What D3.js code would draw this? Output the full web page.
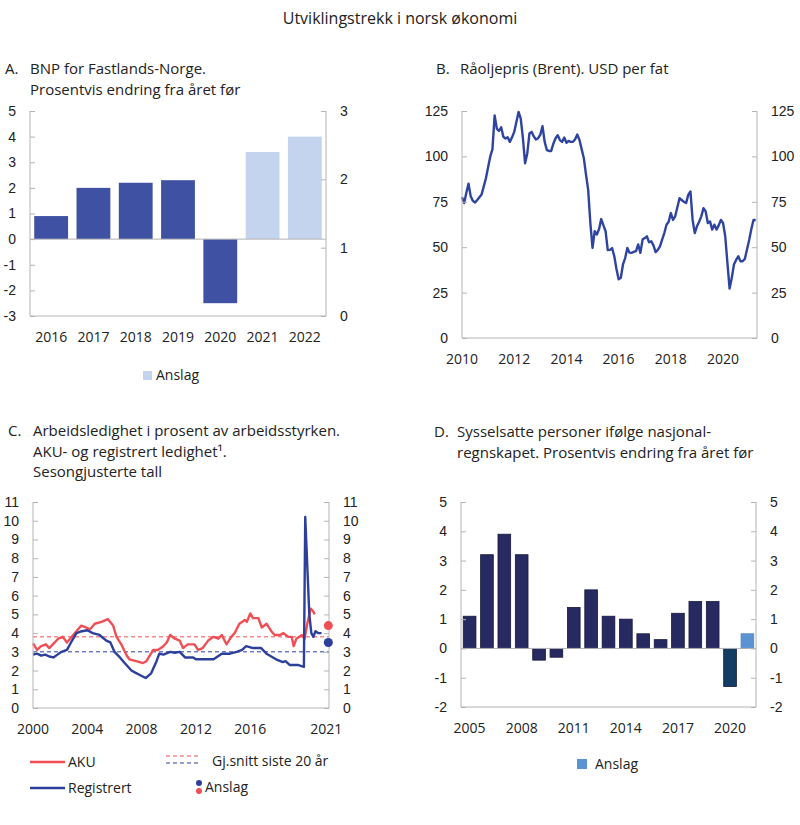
<!DOCTYPE html>
<html>
<head>
<meta charset="utf-8">
<script src="https://cdn.jsdelivr.net/npm/d3@7"></script>
<style>
  body { margin: 0; background: #fff; }
  svg { font-family: "Open Sans", sans-serif; }
  .axis text { font-size: 14px; fill: #222; }
  .axis path, .axis line { stroke: #b4b4b4; }
</style>
</head>
<body>
<svg id="chart" width="800" height="825"></svg>
<script>
// A: BNP Fastlands-Norge
const bnpYears = ["2016", "2017", "2018", "2019", "2020", "2021", "2022"];
const bnpValues = [0.9, 2.0, 2.2, 2.3, -2.5, 3.4, 4.0];
const bnpForecast = [false, false, false, false, false, true, true];

// B: Brent, monthly from Jan 2010
const brentStart = 2010;
const brentValues = [
  77.6, 74.3, 80, 85, 78, 75.5, 74.6, 76, 77.5, 79, 83.5, 88,
  94, 100, 104, 122.6, 115.3, 114, 116, 110.8, 109.9, 110.5, 108, 110.5,
  113.5, 119, 124.5, 120.8, 110, 96.2, 101.6, 112.6, 113.5, 111, 109.3, 110,
  112, 116.6, 108, 103.5, 103, 103, 107, 110, 111.7, 109, 108, 110.4,
  107.5, 108.5, 108, 108, 109.5, 112, 109, 104, 99, 90, 81.6, 63.3,
  49.6, 58.8, 57, 60, 65.5, 62, 58.8, 48.4, 48.5, 49.5, 45, 38,
  32.3, 33.2, 40.5, 44, 49.6, 47, 46.9, 47.5, 47.8, 51.5, 46.9, 54.2,
  55, 56, 52.7, 53.3, 51, 47.3, 48.5, 50.5, 54.2, 57.8, 62.4, 64,
  68.8, 65, 67, 72, 77, 76, 75, 74.3, 78.8, 80.7, 65, 57.8,
  61.5, 64, 67, 71.5, 69.7, 63.3, 64.2, 59.7, 62.4, 59.7, 62, 65,
  63.3, 56, 41.4, 27.2, 33, 40.5, 43, 45, 42.3, 42.3, 43.5, 48.7,
  54, 60, 65, 65
];
const brentTicks = [2010, 2012, 2014, 2016, 2018, 2020];

// C: Arbeidsledighet
const akuSeries = [
  [2000.0,3.45],[2000.3,3.1],[2000.6,3.3],[2000.95,3.4],[2001.2,3.2],[2001.6,3.5],[2001.85,3.7],
  [2002.2,3.8],[2002.5,3.5],[2002.85,3.8],[2003.2,4.1],[2003.55,4.4],[2003.9,4.3],[2004.2,4.2],
  [2004.55,4.5],[2005.05,4.6],[2005.5,4.75],[2005.9,4.4],[2006.15,3.8],[2006.5,3.4],[2006.9,2.8],
  [2007.1,2.6],[2007.6,2.5],[2008.1,2.4],[2008.35,2.5],[2008.6,2.8],[2008.85,3.1],[2009.2,3.1],
  [2009.6,3.3],[2009.85,3.5],[2010.1,3.9],[2010.45,3.7],[2010.8,3.6],[2011.05,3.2],[2011.4,3.4],
  [2011.9,3.4],[2012.15,3.1],[2012.5,3.2],[2012.9,3.6],[2013.3,3.8],[2013.65,3.7],[2013.9,3.9],
  [2014.25,3.4],[2014.6,3.8],[2014.85,4.0],[2015.2,4.5],[2015.6,4.7],[2015.75,4.6],[2016.0,5.05],
  [2016.2,4.8],[2016.6,4.8],[2016.85,4.3],[2017.2,4.5],[2017.55,4.1],[2017.8,3.9],[2018.2,3.9],
  [2018.45,4.0],[2018.8,3.8],[2019.05,3.8],[2019.2,3.3],[2019.4,3.7],[2019.8,3.9],[2020.0,3.7],
  [2020.2,4.5],[2020.45,5.3],[2020.6,5.2],[2020.75,5.0]
];
const regSeries = [
  [2000.0,2.85],[2000.3,2.9],[2000.6,2.8],[2000.9,2.85],[2001.2,2.75],[2001.5,2.7],[2001.8,2.85],
  [2002.1,3.0],[2002.5,3.1],[2002.8,3.5],[2003.2,4.0],[2003.6,4.1],[2004.0,4.15],[2004.4,4.0],
  [2004.9,3.9],[2005.4,3.6],[2005.7,3.5],[2006.0,3.0],[2006.4,2.7],[2006.75,2.4],[2007.25,2.0],
  [2007.5,1.9],[2007.9,1.75],[2008.3,1.6],[2008.7,1.85],[2009.1,2.5],[2009.3,2.9],[2009.6,2.85],
  [2010.1,3.0],[2010.45,2.95],[2010.8,3.0],[2011.2,2.7],[2011.8,2.7],[2012.0,2.6],[2012.6,2.6],
  [2013.3,2.6],[2013.9,2.9],[2014.5,2.9],[2015.0,3.0],[2015.4,3.1],[2015.7,3.3],[2016.2,3.2],
  [2016.8,3.2],[2017.2,2.9],[2017.9,2.6],[2018.4,2.45],[2018.6,2.5],[2018.9,2.3],[2019.5,2.3],
  [2019.95,2.2],[2020.05,10.2],[2020.35,5.0],[2020.5,4.0],[2020.65,3.8],[2020.8,4.1],[2021.0,4.0],
  [2021.25,4.0]
];
const akuAverage = 3.8;
const regAverage = 3.0;
const akuForecast = [2021.75, 4.4];
const regForecast = [2021.75, 3.5];
const ledighetTicks = [2000, 2004, 2008, 2012, 2016];

// D: Sysselsatte
const sysYears = ["2005","2006","2007","2008","2009","2010","2011","2012","2013",
  "2014","2015","2016","2017","2018","2019","2020","2021"];
const sysValues = [1.1, 3.2, 3.9, 3.2, -0.4, -0.3, 1.4, 2.0, 1.1, 1.0, 0.5, 0.3, 1.2, 1.6, 1.6, -1.3, 0.5];
const sysTicks = ["2005", "2008", "2011", "2014", "2017", "2020"];

const svg = d3.select("#chart");
const gray = "#b4b4b4";
const red = "#ef4f55";
const blue = "#2c3f9c";
const fmt = d => String(d);

svg.append("text").attr("x", 400).attr("y", 24).attr("text-anchor", "middle")
  .attr("font-size", 16).attr("fill", "#222").text("Utviklingstrekk i norsk økonomi");

function title(letter, lx, tx, y0, lines) {
  svg.append("text").attr("x", lx).attr("y", y0).attr("font-size", 15).attr("fill", "#222").text(letter);
  lines.forEach((l, i) => {
    svg.append("text").attr("x", tx).attr("y", y0 + i * 20.5).attr("font-size", 15)
      .attr("fill", "#222").text(l);
  });
}

function yAxes(g, yL, yR, w, ticksL, ticksR) {
  g.append("g").attr("class", "axis")
    .call(d3.axisLeft(yL).tickValues(ticksL).tickFormat(fmt).tickSize(-5).tickSizeOuter(0).tickPadding(14))
    .call(a => a.select(".domain").remove());
  g.append("g").attr("class", "axis").attr("transform", `translate(${w},0)`)
    .call(d3.axisRight(yR).tickValues(ticksR).tickFormat(fmt).tickSize(-5).tickSizeOuter(0).tickPadding(14))
    .call(a => a.select(".domain").remove());
  const [y0, y1] = yL.range();
  g.append("line").attr("x1", 0).attr("x2", 0).attr("y1", y0).attr("y2", y1).attr("stroke", gray);
  g.append("line").attr("x1", w).attr("x2", w).attr("y1", y0).attr("y2", y1).attr("stroke", gray);
  g.append("line").attr("x1", 0).attr("x2", w).attr("y1", y0).attr("y2", y0).attr("stroke", gray);
}

function xLabels(g, xs, y) {
  g.selectAll(null).data(xs).enter().append("text")
    .attr("x", d => d.x).attr("y", y).attr("text-anchor", "middle")
    .attr("font-size", 14).attr("fill", "#222").text(d => d.label);
}

// ---- Panel A
{
  const w = 296, h = 205;
  const g = svg.append("g").attr("transform", "translate(30,111)");
  const x = d3.scaleBand().domain(bnpYears).range([0, w]).paddingInner(0.2).paddingOuter(0.1);
  const y = d3.scaleLinear().domain([-3, 5]).range([h, 0]);
  const yR = d3.scaleLinear().domain([0, 3]).range([h, 0]);
  g.selectAll("rect").data(bnpValues).enter().append("rect")
    .attr("x", (d, i) => x(bnpYears[i]))
    .attr("width", x.bandwidth())
    .attr("y", d => y(Math.max(0, d)))
    .attr("height", d => Math.abs(y(d) - y(0)))
    .attr("fill", (d, i) => bnpForecast[i] ? "#c5d4ee" : "#3f51a3");
  g.append("line").attr("x1", 0).attr("x2", w).attr("y1", y(0)).attr("y2", y(0)).attr("stroke", gray);
  yAxes(g, y, yR, w, d3.range(-3, 6), d3.range(0, 4));
  xLabels(g, bnpYears.map(d => ({ x: x(d) + x.bandwidth() / 2, label: d })), h + 26);
  svg.append("rect").attr("x", 143).attr("y", 371).attr("width", 9).attr("height", 9).attr("fill", "#c5d4ee");
  svg.append("text").attr("x", 156).attr("y", 380).attr("font-size", 14).attr("fill", "#222").text("Anslag");
}
title("A.", 5, 30, 74, ["BNP for Fastlands-Norge.", "Prosentvis endring fra året før"]);

// ---- Panel B
{
  const w = 295, h = 227;
  const g = svg.append("g").attr("transform", "translate(462,111)");
  const x = d3.scaleLinear().domain([2010, 2021.3]).range([0, w]);
  const y = d3.scaleLinear().domain([0, 125]).range([h, 0]);
  const data = brentValues.map((v, i) => [brentStart + i / 12, v]);
  g.append("path").datum(data).attr("fill", "none").attr("stroke", "#2e44a0")
    .attr("stroke-width", 2.4).attr("stroke-linejoin", "round")
    .attr("d", d3.line().x(d => x(d[0])).y(d => y(d[1])));
  yAxes(g, y, y, w, d3.range(0, 126, 25), d3.range(0, 126, 25));
  xLabels(g, brentTicks.map(d => ({ x: x(d), label: d })), h + 26);
}
title("B.", 436, 460, 74, ["Råoljepris (Brent). USD per fat"]);

// ---- Panel C
{
  const w = 296, h = 206;
  const g = svg.append("g").attr("transform", "translate(33,502)");
  const x = d3.scaleLinear().domain([2000, 2021.8]).range([0, w]);
  const y = d3.scaleLinear().domain([0, 11]).range([h, 0]);
  const line = d3.line().x(d => x(d[0])).y(d => y(d[1]));
  g.append("line").attr("x1", 0).attr("x2", w).attr("y1", y(akuAverage)).attr("y2", y(akuAverage))
    .attr("stroke", red).attr("stroke-width", 1).attr("stroke-dasharray", "4,3");
  g.append("line").attr("x1", 0).attr("x2", w).attr("y1", y(regAverage)).attr("y2", y(regAverage))
    .attr("stroke", blue).attr("stroke-width", 1).attr("stroke-dasharray", "4,3");
  g.append("path").datum(akuSeries).attr("fill", "none").attr("stroke", red)
    .attr("stroke-width", 2.4).attr("stroke-linejoin", "round").attr("d", line);
  g.append("path").datum(regSeries).attr("fill", "none").attr("stroke", blue)
    .attr("stroke-width", 2.4).attr("stroke-linejoin", "round").attr("d", line);
  yAxes(g, y, y, w, d3.range(0, 12), d3.range(0, 12));
  g.append("circle").attr("cx", x(akuForecast[0])).attr("cy", y(akuForecast[1])).attr("r", 4.5).attr("fill", red);
  g.append("circle").attr("cx", x(regForecast[0])).attr("cy", y(regForecast[1])).attr("r", 4.5).attr("fill", blue);
  const labs = ledighetTicks.map(d => ({ x: x(d), label: d }));
  labs.push({ x: x(2021.6), label: "2021" });
  xLabels(g, labs, h + 26);

  // legend
  svg.append("line").attr("x1", 30).attr("x2", 65).attr("y1", 762).attr("y2", 762).attr("stroke", red).attr("stroke-width", 2.4);
  svg.append("text").attr("x", 68).attr("y", 767).attr("font-size", 14).attr("fill", "#222").text("AKU");
  svg.append("line").attr("x1", 30).attr("x2", 65).attr("y1", 788).attr("y2", 788).attr("stroke", blue).attr("stroke-width", 2.4);
  svg.append("text").attr("x", 68).attr("y", 793).attr("font-size", 14).attr("fill", "#222").text("Registrert");
  svg.append("line").attr("x1", 166).attr("x2", 201).attr("y1", 756).attr("y2", 756).attr("stroke", red).attr("stroke-dasharray", "4,3");
  svg.append("line").attr("x1", 166).attr("x2", 201).attr("y1", 763).attr("y2", 763).attr("stroke", blue).attr("stroke-dasharray", "4,3");
  svg.append("text").attr("x", 212).attr("y", 766).attr("font-size", 14).attr("fill", "#222").text("Gj.snitt siste 20 år");
  svg.append("circle").attr("cx", 199).attr("cy", 783).attr("r", 3).attr("fill", blue);
  svg.append("circle").attr("cx", 199).attr("cy", 791).attr("r", 3).attr("fill", red);
  svg.append("text").attr("x", 205).attr("y", 792).attr("font-size", 14).attr("fill", "#222").text("Anslag");
}
title("C.", 8, 33, 436, ["Arbeidsledighet i prosent av arbeidsstyrken.", "AKU- og registrert ledighet¹.", "Sesongjusterte tall"]);

// ---- Panel D
{
  const w = 295, h = 205;
  const g = svg.append("g").attr("transform", "translate(461,502)");
  const x = d3.scaleBand().domain(sysYears).range([0, w]).paddingInner(0.27).paddingOuter(0.13);
  const y = d3.scaleLinear().domain([-2, 5]).range([h, 0]);
  const fill = yr => yr === "2021" ? "#5b92d2" : yr === "2020" ? "#143d63" : "#272a60";
  g.selectAll("rect").data(sysValues).enter().append("rect")
    .attr("x", (d, i) => x(sysYears[i]))
    .attr("width", x.bandwidth())
    .attr("y", d => y(Math.max(0, d)))
    .attr("height", d => Math.abs(y(d) - y(0)))
    .attr("fill", (d, i) => fill(sysYears[i]))
    .attr("stroke", (d, i) => sysYears[i] === "2021" ? "#4f86c6" : "#15173d")
    .attr("stroke-width", 0.8);
  g.append("line").attr("x1", 0).attr("x2", w).attr("y1", y(0)).attr("y2", y(0)).attr("stroke", gray);
  yAxes(g, y, y, w, d3.range(-2, 6), d3.range(-2, 6));
  xLabels(g, sysTicks.map(d => ({ x: x(d) + x.bandwidth() / 2, label: d })), h + 26);
  svg.append("rect").attr("x", 577).attr("y", 759).attr("width", 10).attr("height", 10).attr("fill", "#5b92d2");
  svg.append("text").attr("x", 595).attr("y", 769).attr("font-size", 14).attr("fill", "#222").text("Anslag");
}
title("D.", 434, 457, 437, ["Sysselsatte personer ifølge nasjonal-", "regnskapet. Prosentvis endring fra året før"]);
</script>
</body>
</html>
